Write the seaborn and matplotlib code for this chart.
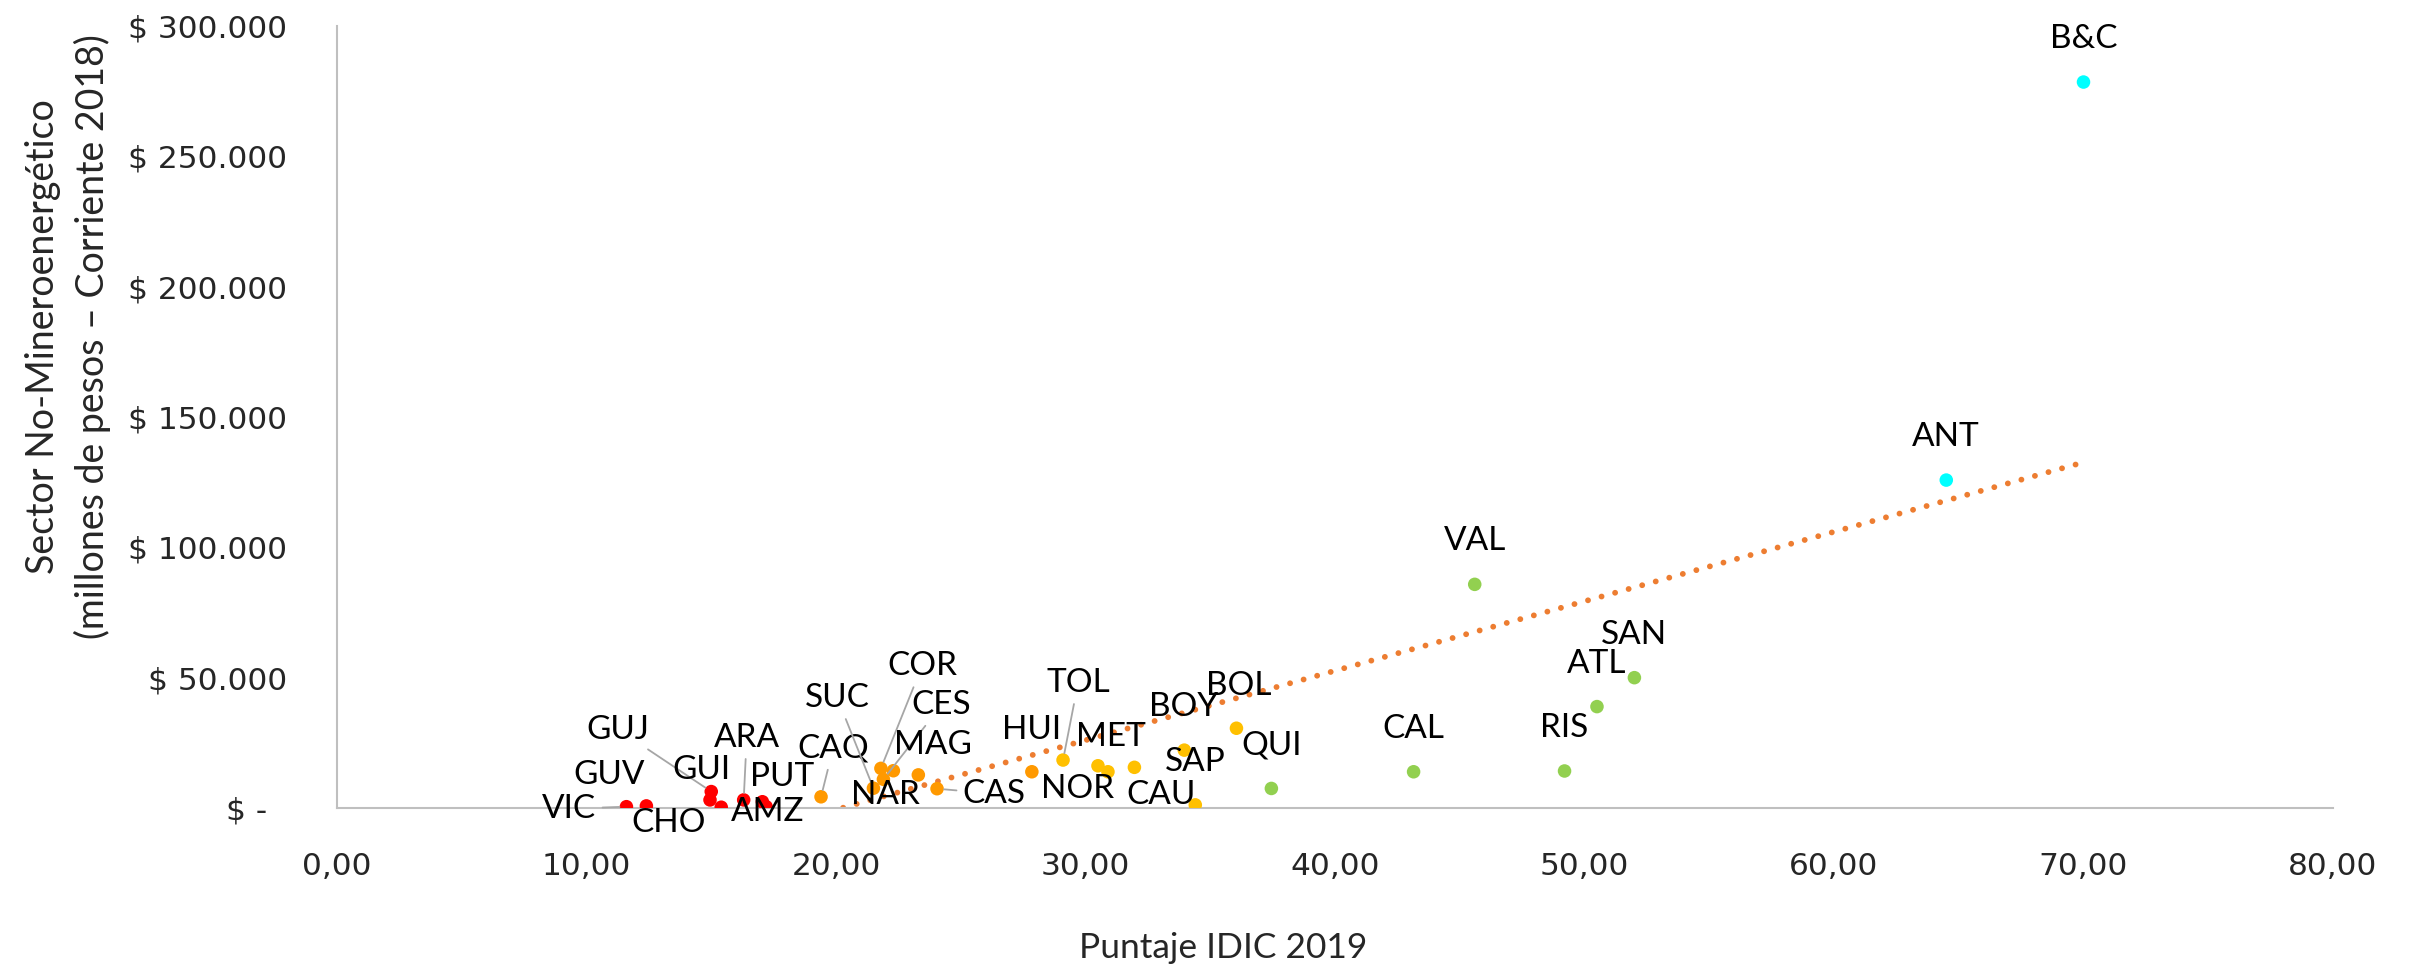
import matplotlib
matplotlib.use("Agg")
import matplotlib.pyplot as plt
import seaborn as sns
import pandas as pd
import numpy as np
from matplotlib.ticker import FuncFormatter, MultipleLocator

# Datos
deptos = ['VIC', 'GUV', 'CHO', 'GUJ', 'GUI', 'ARA', 'PUT', 'AMZ',
          'CAQ', 'SUC', 'COR', 'CES', 'NAR', 'MAG', 'CAS', 'HUI',
          'TOL', 'MET', 'NOR', 'CAU', 'BOY', 'SAP', 'BOL',
          'QUI', 'CAL', 'VAL', 'RIS', 'ATL', 'SAN',
          'ANT', 'B&C']
idic = [11.6, 12.4, 15.4, 15.0, 14.95, 16.3, 17.05, 17.2,
        19.4, 21.5, 21.8, 21.9, 22.3, 23.3, 24.05, 27.85,
        29.1, 30.5, 30.9, 31.96, 33.96, 34.4, 36.05,
        37.45, 43.15, 45.6, 49.2, 50.5, 52.0,
        64.5, 70.0]
pib = [500, 800, 300, 6300, 3100, 3100, 2400, 500,
       4300, 7600, 15200, 11000, 14300, 12700, 7400, 13900,
       18400, 16200, 13900, 15600, 22200, 1200, 30600,
       7500, 13900, 85800, 14200, 38900, 50000,
       125800, 278500]
grupo = ['Bajo'] * 8 + ['Medio-bajo'] * 8 + ['Medio'] * 7 + ['Medio-alto'] * 6 + ['Alto'] * 2

colores = {'Bajo': '#FF0000', 'Medio-bajo': '#FF9900', 'Medio': '#FFC000',
           'Medio-alto': '#92D050', 'Alto': '#00FFFF'}

# posición de etiquetas (px, respecto al punto)
offsets = {'VIC': (-57, -2), 'GUV': (-37, 31), 'CHO': (-53, -16), 'GUJ': (-93, 62),
           'GUI': (-9, 30), 'ARA': (3, 62), 'PUT': (20, 25), 'AMZ': (2, -5),
           'CAQ': (12, 48), 'SUC': (-36, 90), 'NAR': (-8, -24), 'COR': (41, 102),
           'CES': (58, 74), 'MAG': (15, 30), 'CAS': (57, -5), 'HUI': (0, 42),
           'TOL': (15, 77), 'MET': (13, 29), 'NOR': (-30, -17), 'CAU': (27, -28),
           'SAP': (0, 43), 'BOY': (-1, 43), 'BOL': (2, 42)}
con_linea = {'VIC', 'GUJ', 'ARA', 'CAQ', 'SUC', 'COR', 'CES', 'CAS', 'TOL'}

df = pd.DataFrame({'depto': deptos, 'idic': idic, 'pib': pib, 'grupo': grupo})

sns.set_style("white")
plt.rcParams['font.family'] = ['Lato', 'DejaVu Sans']

fig = plt.figure(figsize=(24.1, 9.68), dpi=100)
ax = fig.add_axes([337 / 2410, 1 - 808 / 968, 1996 / 2410, 782 / 968])

sns.regplot(data=df, x='idic', y='pib', scatter=False, ci=None, truncate=True, ax=ax,
            line_kws={'color': '#ED7D31', 'lw': 4.2, 'ls': (0, (0.01, 2.4)),
                      'dash_capstyle': 'round', 'zorder': 2})
sns.scatterplot(data=df, x='idic', y='pib', hue='grupo', palette=colores, s=95,
                edgecolor='none', legend=False, ax=ax, zorder=3)

for d, x, y in zip(deptos, idic, pib):
    dx, dy = offsets.get(d, (0, 43))
    arrow = None
    if d in con_linea:
        arrow = dict(arrowstyle='-', color='#A6A6A6', lw=1.3, shrinkA=2, shrinkB=5)
    ax.annotate(d, (x, y), xytext=(dx, dy), textcoords='offset pixels',
                ha='center', va='center', fontsize=24, color='black',
                arrowprops=arrow, zorder=4, annotation_clip=False)

ax.set_xlim(0, 80)
ax.set_ylim(0, 300000)
ax.xaxis.set_major_locator(MultipleLocator(10))
ax.yaxis.set_major_locator(MultipleLocator(50000))
ax.xaxis.set_major_formatter(FuncFormatter(lambda v, p: f"{v:.2f}".replace('.', ',')))
ax.yaxis.set_major_formatter(FuncFormatter(
    lambda v, p: "$ -  " if v == 0 else "$ " + f"{int(v):,}".replace(',', '.')))
ax.tick_params(length=0)
ax.tick_params(axis='x', pad=32)
ax.tick_params(axis='y', pad=36)
for lbl in ax.get_xticklabels() + ax.get_yticklabels():
    lbl.set_fontfamily('DejaVu Sans')
    lbl.set_fontsize(22.5)

ax.set_xlabel('')
ax.set_ylabel('')
for s in ['top', 'right']:
    ax.spines[s].set_visible(False)
for s in ['left', 'bottom']:
    ax.spines[s].set_color('#BFBFBF')
    ax.spines[s].set_linewidth(1.5)

fig.text(1223 / 2410, 1 - 948 / 968, 'Puntaje IDIC 2019', ha='center', va='center', fontsize=25.5)
fig.text(68 / 2410, 1 - 337 / 968,
         'Sector No-Mineroenergético\n(millones de pesos – Corriente 2018)',
         rotation=90, ha='center', va='center', multialignment='center',
         fontsize=27, linespacing=1.4)

fig.savefig('out.png', dpi=100)
plt.close(fig)
